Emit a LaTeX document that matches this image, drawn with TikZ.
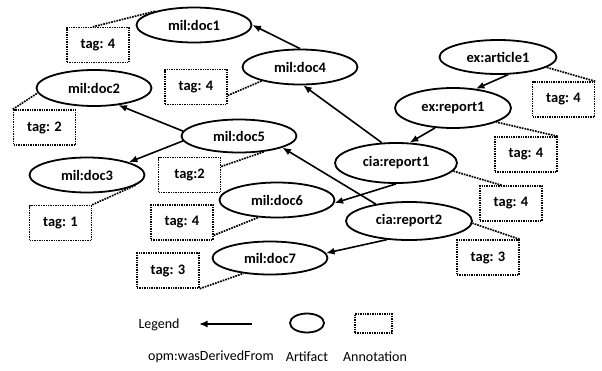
\documentclass[tikz,border=0pt]{standalone}
\usepackage{fontspec}
\setmainfont{Carlito}
\usetikzlibrary{positioning,arrows.meta,shapes.geometric}
\tikzset{
 art/.style={ellipse, draw=black, line width=1.8pt, minimum width=115pt,
 minimum height=35pt, inner sep=0pt, font=\fontsize{14.5}{16}\selectfont\bfseries},
 ann/.style={rectangle, draw=black, densely dotted, line width=1.4pt,
 minimum width=62pt, minimum height=35pt, inner sep=0pt,
 font=\fontsize{14.5}{16}\selectfont\bfseries},
 der/.style={-{Latex[length=8.5pt,width=7pt]}, draw=black, line width=1.6pt},
 lnk/.style={draw=black, densely dotted, line width=1.7pt},
 lbl/.style={font=\fontsize{14}{16}\selectfont},
}

\begin{document}
\begin{tikzpicture}[x=1pt, y=-1pt]
 \useasboundingbox (0,0) rectangle (602,370);

 % artifacts
 \node[art] (doc1) at (194,25) {mil:doc1};
 \node[art] (doc4) at (300,67) {mil:doc4};
 \node[art, minimum height=36pt] (doc2) at (94,88) {mil:doc2};
 \node[art, minimum height=33pt] (doc5) at (239,136) {mil:doc5};
 \node[art] (doc3) at (87,175) {mil:doc3};
 \node[art] (doc6) at (277,200) {mil:doc6};
 \node[art, minimum height=33pt] (doc7) at (270,258) {mil:doc7};
 \node[art, minimum width=122pt, minimum height=40pt] (rep1) at (396,163) {cia:report1};
 \node[art, minimum width=126pt, minimum height=38pt] (rep2) at (409,221) {cia:report2};
 \node[art, minimum width=116pt, minimum height=40pt] (exrep) at (453,108) {ex:report1};
 \node[art, minimum width=117pt, minimum height=34pt] (exart) at (498,57) {ex:article1};

 % annotations
 \node[ann] (t1) at (98,45) {tag: 4};
 \node[ann] (t4) at (196,87) {tag: 4};
 \node[ann] (t2) at (44.5,127.5) {tag: 2};
 \node[ann] (t5) at (189.5,175) {tag:2};
 \node[ann] (t3) at (60.5,223) {tag: 1};
 \node[ann] (t6) at (182,222.5) {tag: 4};
 \node[ann] (t7) at (168,270.5) {tag: 3};
 \node[ann] (ta) at (563.5,99.5) {tag: 4};
 \node[ann] (tr) at (526,154.5) {tag: 4};
 \node[ann] (tc1) at (511,203.5) {tag: 4};
 \node[ann] (tc2) at (488,257.5) {tag: 3};

 % wasDerivedFrom
 \draw[der] (doc4.north) -- (doc1.east);
 \draw[der] (rep1.125) -- (doc4.-80);
 \draw[der] (exart.-60) -- (exrep.40);
 \draw[der] (exrep.228) -- (rep1.56);
 \draw[der] (doc5.175) -- (doc2.-35);
 \draw[der] (doc5.185) -- (doc3.17);
 \draw[der] (rep2.153) -- (doc5.-15);
 \draw[der] (rep1.south) -- (doc6.-3);
 \draw[der] (rep2.220) -- (doc7.5);

 % annotation links
 \draw[lnk] (t1.106) -- (doc1.160);
 \draw[lnk] (t4.-15) -- (doc4.200);
 \draw[lnk] (t2.north west) -- (doc2.185);
 \draw[lnk] (t5.15) -- (doc5.-32);
 \draw[lnk] (t3.north east) -- (doc3.-12);
 \draw[lnk] (t6.-22) -- (doc6.223);
 \draw[lnk] (t7.south east) -- (doc7.210);
 \draw[lnk] (ta.north east) -- (exart.-12);
 \draw[lnk] (tr.north east) -- (exrep.-18);
 \draw[lnk] (tc1.117) -- (rep1.-8);
 \draw[lnk] (tc2.north east) -- (rep2.-2);

 % legend
 \node[lbl] (legend) at (159,325) {Legend};
 \coordinate (lr) at (252,324);
 \coordinate (ll) at (199,324);
 \draw[der] (lr) -- (ll);
 \node[art, minimum width=34pt, minimum height=19pt] (lart) at (307,323) {};
 \node[ann, minimum width=37pt, minimum height=19pt] (lann) at (373.5,323.5) {};
 \node[lbl] (lder) at (211,357) {opm:wasDerivedFrom};
 \node[lbl] (lartx) at (307,357) {Artifact};
 \node[lbl] (lannx) at (375,357) {Annotation};
\end{tikzpicture}
\end{document}
